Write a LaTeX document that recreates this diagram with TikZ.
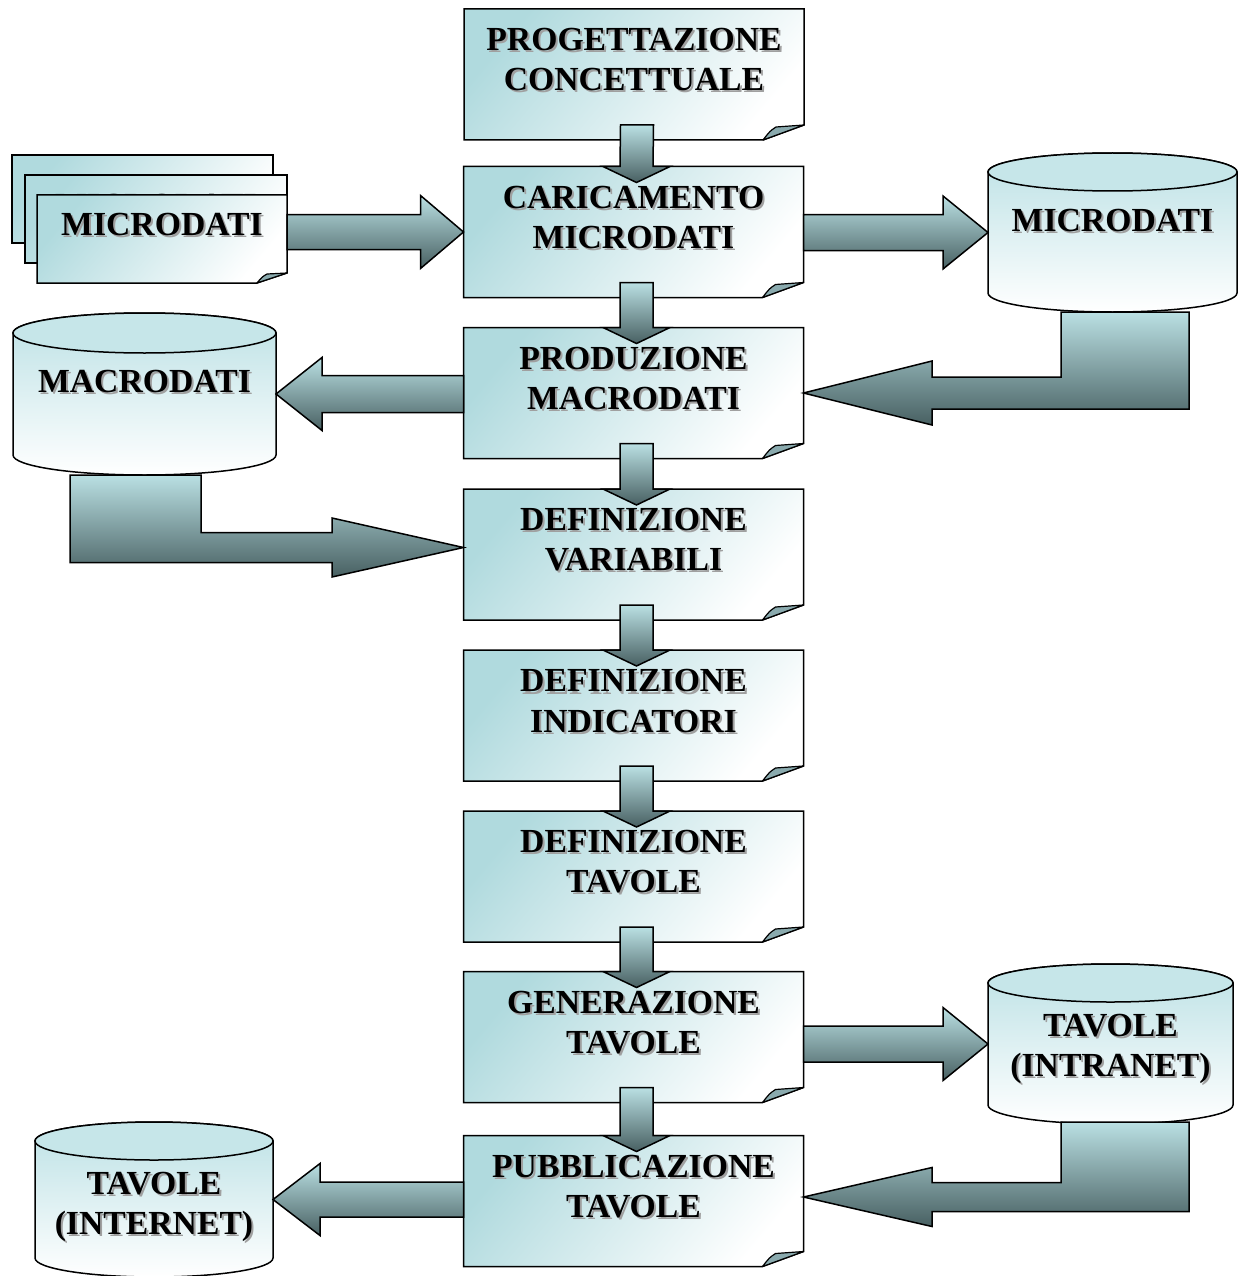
\documentclass[tikz,border=0pt]{standalone}
\usepackage{fontspec}
\setmainfont{Liberation Serif}
\usetikzlibrary{calc}
\definecolor{boxc}{RGB}{176,218,222}
\definecolor{cylc}{RGB}{188,225,229}
\definecolor{cyltop}{RGB}{198,230,233}
\definecolor{arrtop}{RGB}{186,224,227}
\definecolor{arrbot}{RGB}{72,96,98}
\definecolor{foldc}{RGB}{138,170,174}
\definecolor{shadowc}{RGB}{160,160,160}
\newcommand\shd[1]{\rlap{\kern2pt\raisebox{-2pt}{\textcolor{shadowc}{#1}}}#1}
\tikzset{
 outl/.style={draw=black, line width=1.5pt, line join=miter},
 boxfill/.style={outl, top color=boxc, bottom color=white, shading angle=50},
 cylfill/.style={outl, top color=cylc, bottom color=white},
 arr/.style={outl, top color=arrtop, bottom color=arrbot},
 foldfill/.style={draw=black, line width=1.2pt, fill=foldc, line join=round},
 lbl/.style={font=\fontsize{33.7}{40}\selectfont\bfseries, align=center, inner sep=0pt},
 frame/.style={rectangle, inner sep=0pt, outer sep=0pt, draw=none},
}
\newcommand\docbox[4]{%
 \node[frame, minimum width=340pt, minimum height=131pt] (#1) at (#2,#3) {};
 \path[boxfill] (#1.north west) -- (#1.north east) -- ($(#1.south east)+(0,-15)$) -- ($(#1.south east)+(-41,0)$) -- (#1.south west) -- cycle;
 \path[foldfill] ($(#1.south east)+(-41,0)$) .. controls ($(#1.south east)+(-34,-9)$) .. ($(#1.south east)+(-28,-13)$) -- ($(#1.south east)+(0,-15)$) -- cycle;
 \node[lbl] (#1t) at ($(#1.north)+(0,52)$) {#4};}
\newcommand\cyl[8]{%
 \node[frame, minimum width=#4pt, minimum height=#5pt] (#1) at (#2,#3) {};
 \path[cylfill] (#1.north west) -- (#1.south west) arc[start angle=180, end angle=0, x radius=#4/2, y radius=#6] -- (#1.north east) arc[start angle=0, end angle=-180, x radius=#4/2, y radius=#6] -- cycle;
 \path[outl, fill=cyltop] (#1.north) ellipse[x radius=#4/2, y radius=#6];
 \node[lbl] (#1t) at ($(#1.center)+(0,#8)$) {#7};}
\newcommand\darr[2]{%
 \path[arr] ($(#1.south)+(-13.5,-15)$) -- ($(#1.south)+(19.5,-15)$) -- ($(#2.north)+(19.5,0)$) -- ($(#2.north)+(36.5,0)$) -- ($(#2.north)+(3,16)$) -- ($(#2.north)+(-30.5,0)$) -- ($(#2.north)+(-13.5,0)$) -- cycle;}
\newcommand\harr[5]{%
 \path[arr] let \p1=(#1), \p2=(#2) in
 (\x1,{\y2+#3pt}) -- ({\x2-(#5pt)},{\y2+#3pt}) -- ({\x2-(#5pt)},{\y2+#4pt}) -- (\x2,\y2) -- ({\x2-(#5pt)},{\y2-#4pt}) -- ({\x2-(#5pt)},{\y2-#3pt}) -- (\x1,{\y2-#3pt}) -- cycle;}
\newcommand\bentarr[7]{%
 \path[arr] let \p1=(#1), \p2=(#2) in
 (#3pt,\y1) -- (#4pt,\y1) -- (#4pt,{\y2-#5pt}) -- (#7pt,{\y2-#5pt}) -- (#7pt,{\y2-#6pt}) -- (\x2,\y2) -- (#7pt,{\y2+#6pt}) -- (#7pt,{\y2+#5pt}) -- (#3pt,{\y2+#5pt}) -- cycle;}
\begin{document}
\begin{tikzpicture}[x=1pt, y=-1pt]
\fill[white] (0,0) rectangle (1239,1276);
\useasboundingbox (0,0) rectangle (1239,1276);
% main column
\docbox{b1}{634}{74.5}{\shd{PROGETTAZIONE}\\\shd{CONCETTUALE}}
\docbox{b2}{633.5}{232}{\shd{CARICAMENTO}\\\shd{MICRODATI}}
\docbox{b3}{633.5}{393}{\shd{PRODUZIONE}\\\shd{MACRODATI}}
\docbox{b4}{633.5}{554.5}{\shd{DEFINIZIONE}\\\shd{VARIABILI}}
\docbox{b5}{633.5}{715.5}{\shd{DEFINIZIONE}\\\shd{INDICATORI}}
\docbox{b6}{633.5}{876.5}{\shd{DEFINIZIONE}\\\shd{TAVOLE}}
\docbox{b7}{633.5}{1037}{\shd{GENERAZIONE}\\\shd{TAVOLE}}
\docbox{b8}{633.5}{1201}{\shd{PUBBLICAZIONE}\\\shd{TAVOLE}}
% stacked documents
\node[frame, minimum width=261pt, minimum height=88pt] (s1) at (142.5,199) {};
\path[boxfill] (s1.north west) rectangle (s1.south east);
\node[frame, minimum width=262pt, minimum height=88pt] (s2) at (156,219) {};
\path[boxfill] (s2.north west) rectangle (s2.south east);
\node[lbl] (s2t) at ($(s2.center)+(0,-12)$) {\shd{MICRODATI}};
\node[frame, minimum width=250pt, minimum height=88pt] (s3) at (162,239) {};
\path[boxfill] (s3.north west) -- (s3.north east) -- ($(s3.south east)+(0,-10)$) -- ($(s3.south east)+(-30,0)$) -- (s3.south west) -- cycle;
\path[foldfill] ($(s3.south east)+(-30,0)$) .. controls ($(s3.south east)+(-25,-6)$) .. ($(s3.south east)+(-20,-9)$) -- ($(s3.south east)+(0,-10)$) -- cycle;
\node[lbl] (s3t) at ($(s3.center)+(0,-13)$) {\shd{MICRODATI}};
% cylinders
\cyl{micc}{1112.5}{232.5}{249}{121}{19}{\shd{MICRODATI}}{-11}
\cyl{macc}{144.5}{394}{263}{122}{20}{\shd{MACRODATI}}{-11}
\cyl{intra}{1110.5}{1044}{245}{122}{19}{\shd{TAVOLE}\\\shd{(INTRANET)}}{6}
\cyl{inter}{154}{1199.5}{238}{117}{19}{\shd{TAVOLE}\\\shd{(INTERNET)}}{8}
% down arrows
\darr{b1}{b2}
\darr{b2}{b3}
\darr{b3}{b4}
\darr{b4}{b5}
\darr{b5}{b6}
\darr{b6}{b7}
\darr{b7}{b8}
% horizontal arrows
\harr{s3.east}{b2.west}{17.5}{36.5}{43}
\harr{b2.east}{micc.west}{18}{36.5}{45}
\harr{b3.west}{macc.east}{18.5}{36.5}{-46}
\harr{b7.east}{intra.west}{18}{36.5}{45}
\harr{b8.west}{inter.east}{17.5}{36}{-47}
% bent arrows
\bentarr{$(micc.south)+(0,19)$}{b3.east}{1061}{1189}{16}{32}{932}
\bentarr{$(macc.south)+(0,20)$}{$(b4.west)+(0,-7)$}{201}{70}{15}{29.5}{332}
\bentarr{$(intra.south)+(0,17)$}{$(b8.east)+(0,-4)$}{1061}{1189}{14.5}{29.5}{932}
\end{tikzpicture}
\end{document}
